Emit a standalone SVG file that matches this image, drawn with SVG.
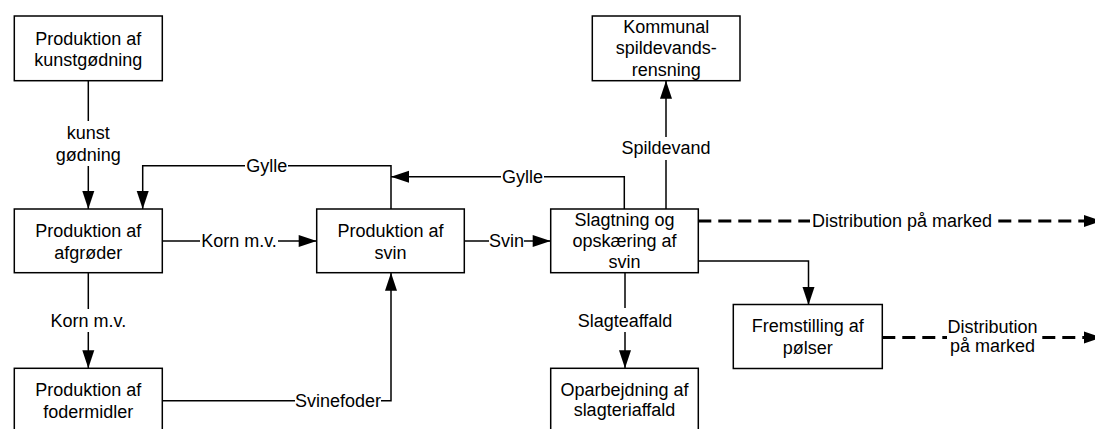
<svg xmlns="http://www.w3.org/2000/svg" width="1095" height="429" viewBox="0 0 1095 429">
<style>
.box{fill:#fff;stroke:#000;stroke-width:1.5}
.t{font-family:"Liberation Sans",Arial,sans-serif;font-size:18px;fill:#000;text-anchor:middle}
.c{fill:none;stroke:#000;stroke-width:1.5}
.d{fill:none;stroke:#000;stroke-width:3;stroke-dasharray:13 7}
.bg{fill:#fff;stroke:none}
</style>
<defs>
<marker id="ah" markerUnits="userSpaceOnUse" markerWidth="18" markerHeight="12" refX="18" refY="6" orient="auto" overflow="visible">
<path d="M0,0 L18,6 L0,12 Z" fill="#000"/>
</marker>
</defs>
<rect width="1095" height="429" fill="#fff"/>
<g id="connectors">
<path class="c" d="M88.3,80.7 V209" marker-end="url(#ah)"/>
<path class="c" d="M391,209 V165.7 H142.7 V209" marker-end="url(#ah)"/>
<path class="c" d="M624.3,209 V176.7 H391" marker-end="url(#ah)"/>
<path class="c" d="M162.3,241 H316.7" marker-end="url(#ah)"/>
<path class="c" d="M464.3,241 H550.7" marker-end="url(#ah)"/>
<path class="c" d="M88.3,272.7 V368.3" marker-end="url(#ah)"/>
<path class="c" d="M162.3,400.7 H391 V272.7" marker-end="url(#ah)"/>
<path class="c" d="M666,209 V80.7" marker-end="url(#ah)"/>
<path class="c" d="M625,272.7 V368.3" marker-end="url(#ah)"/>
<path class="c" d="M698.3,261 H808.5 V305" marker-end="url(#ah)"/>
<path class="d" d="M698.3,221 H1102" marker-end="url(#ah)"/>
<path class="d" d="M882.3,337.5 H1102" marker-end="url(#ah)"/>
<rect class="bg" x="55" y="121" width="67" height="45"/>
<text class="t" x="88.3" y="138.5">kunst</text>
<text class="t" x="88.3" y="160.5">gødning</text>
<rect class="bg" x="245" y="157" width="43" height="18"/>
<text class="t" x="266.7" y="171.5">Gylle</text>
<rect class="bg" x="501" y="168" width="43" height="18"/>
<text class="t" x="522.5" y="182.5">Gylle</text>
<rect class="bg" x="200" y="231" width="78" height="20"/>
<text class="t" x="239" y="246.5">Korn m.v.</text>
<rect class="bg" x="489" y="231" width="35" height="20"/>
<text class="t" x="506.5" y="246.5">Svin</text>
<rect class="bg" x="49" y="309" width="79" height="23"/>
<text class="t" x="88.3" y="326.7">Korn m.v.</text>
<rect class="bg" x="295" y="393" width="86" height="18"/>
<text class="t" x="338" y="406.5">Svinefoder</text>
<rect class="bg" x="621" y="137" width="90" height="23"/>
<text class="t" x="666" y="154">Spildevand</text>
<rect class="bg" x="577" y="308" width="96" height="24"/>
<text class="t" x="625" y="326.7">Slagteaffald</text>
<rect class="bg" x="810" y="211" width="184" height="20"/>
<text class="t" x="902" y="226.5">Distribution på marked</text>
<rect class="bg" x="947" y="318" width="91" height="38"/>
<text class="t" x="992.5" y="332.5">Distribution</text>
<text class="t" x="992.5" y="351.5">på marked</text>
</g>
<g id="kunstgoedning">
<rect class="box" x="14.3" y="16" width="148" height="64.7"/>
<text class="t" x="88.3" y="44.5">Produktion af</text>
<text class="t" x="88.3" y="66">kunstgødning</text>
</g>
<g id="afgroeder">
<rect class="box" x="14.3" y="209" width="148" height="63.7"/>
<text class="t" x="88.3" y="237">Produktion af</text>
<text class="t" x="88.3" y="258.5">afgrøder</text>
</g>
<g id="fodermidler">
<rect class="box" x="14.3" y="368.3" width="148" height="80"/>
<text class="t" x="88.3" y="396.3">Produktion af</text>
<text class="t" x="88.3" y="417.8">fodermidler</text>
</g>
<g id="svin">
<rect class="box" x="316.7" y="209" width="147.6" height="63.7"/>
<text class="t" x="390.5" y="237">Produktion af</text>
<text class="t" x="390.5" y="258.5">svin</text>
</g>
<g id="slagtning">
<rect class="box" x="550.7" y="209" width="147.6" height="63.7"/>
<text class="t" x="624.5" y="225.5">Slagtning og</text>
<text class="t" x="624.5" y="246.5">opskæring af</text>
<text class="t" x="624.5" y="267.5">svin</text>
</g>
<g id="kommunal">
<rect class="box" x="592.3" y="16" width="147.7" height="64.7"/>
<text class="t" x="666.2" y="32.7">Kommunal</text>
<text class="t" x="666.2" y="54.3">spildevands-</text>
<text class="t" x="666.2" y="76">rensning</text>
</g>
<g id="fremstilling">
<rect class="box" x="733.3" y="304.5" width="149" height="64"/>
<text class="t" x="807.8" y="332">Fremstilling af</text>
<text class="t" x="807.8" y="353.5">pølser</text>
</g>
<g id="oparbejdning">
<rect class="box" x="550.7" y="368.3" width="147.6" height="80"/>
<text class="t" x="624.5" y="395.5">Oparbejdning af</text>
<text class="t" x="624.5" y="416">slagteriaffald</text>
</g>
</svg>
